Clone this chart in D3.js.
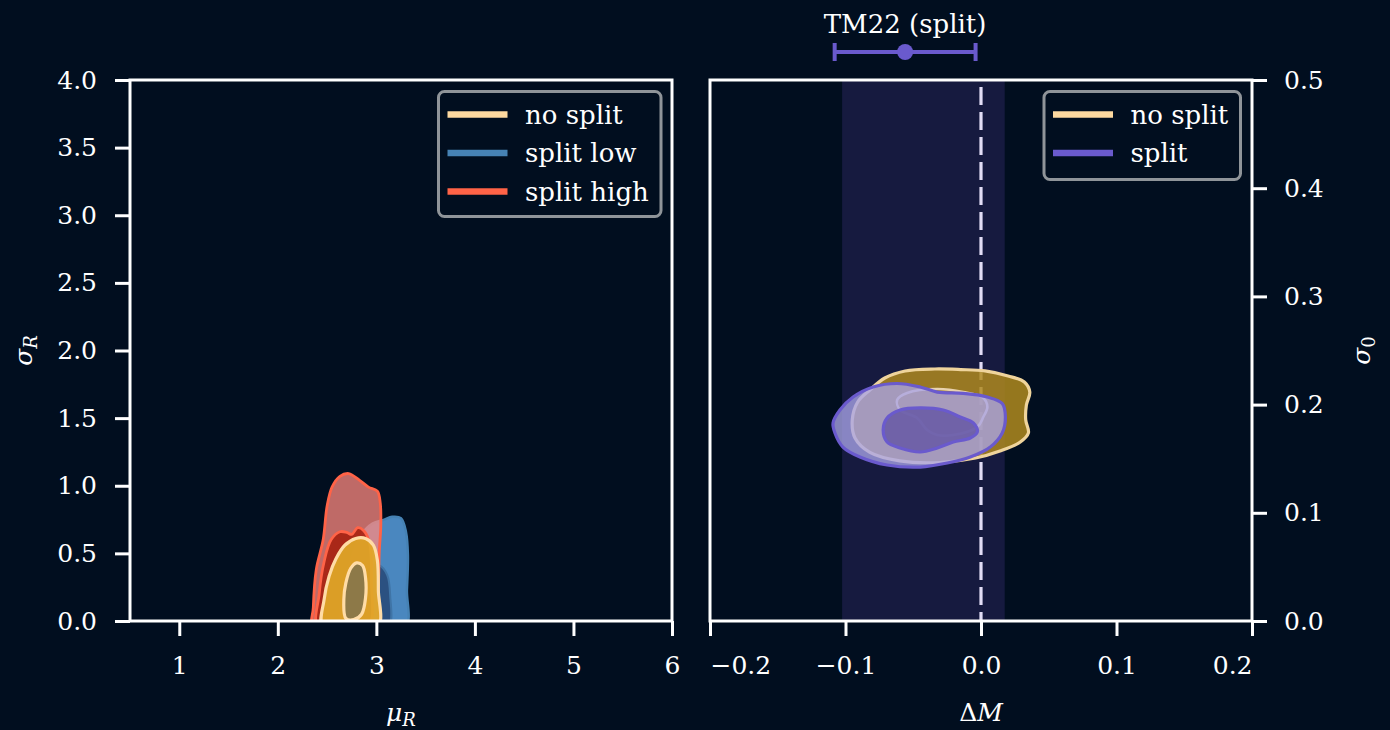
<!DOCTYPE html>
<html>
<head>
<meta charset="utf-8">
<script src="https://cdn.jsdelivr.net/npm/d3@7"></script>
<style>
  body { margin: 0; background: #010e1f; }
  text { font-family: "DejaVu Serif", serif; fill: #ffffff; }
</style>
</head>
<body>
<svg id="chart" width="1390" height="730"></svg>
<script>
// ---- axis ticks ----
const muTicks = [1, 2, 3, 4, 5, 6];
const sigmaRTicks = [0, 0.5, 1.0, 1.5, 2.0, 2.5, 3.0, 3.5, 4.0];
const dmTicks = [-0.2, -0.1, 0.0, 0.1, 0.2];
const sigma0Ticks = [0, 0.1, 0.2, 0.3, 0.4, 0.5];

// ---- left panel: (mu_R, sigma_R) credible contours, [outer 95%, inner 68%] ----
const splitLowOuter = [[2.66,-0.05],[2.67,0.2],[2.74,0.45],[2.85,0.64],[2.96,0.72],[3.08,0.75],[3.16,0.77],[3.25,0.76],[3.30,0.66],[3.32,0.49],[3.31,0.23],[3.29,-0.05]];
const splitLowInner = [[2.81,-0.05],[2.82,0.25],[2.91,0.39],[3.03,0.41],[3.11,0.34],[3.14,0.19],[3.12,-0.05]];
const splitHighOuter = [[2.36,-0.05],[2.36,0.1],[2.39,0.38],[2.46,0.6],[2.50,0.85],[2.55,0.99],[2.63,1.07],[2.72,1.09],[2.83,1.04],[2.92,0.99],[3.01,0.96],[3.04,0.87],[3.045,0.70],[3.03,0.52],[3.02,0.23],[3.0,-0.05]];
const splitHighInner = [[2.41,-0.05],[2.42,0.2],[2.47,0.44],[2.54,0.60],[2.63,0.66],[2.70,0.655],[2.75,0.64],[2.81,0.69],[2.87,0.67],[2.93,0.58],[2.95,0.30],[2.91,-0.05]];
const noSplitOuterL = [[2.46,-0.05],[2.47,0.16],[2.52,0.33],[2.59,0.46],[2.68,0.56],[2.79,0.61],[2.89,0.61],[2.97,0.56],[3.01,0.45],[3.02,0.23],[3.01,-0.05]];
const noSplitInnerL = [[2.69,0.02],[2.67,0.16],[2.69,0.28],[2.74,0.39],[2.80,0.43],[2.86,0.41],[2.89,0.32],[2.89,0.17],[2.85,0.05],[2.77,0.01]];

// ---- right panel: (Delta M, sigma_0) credible contours ----
const noSplitOuterR = [[-0.082,0.2135],[-0.071,0.2246],[-0.056,0.2311],[-0.034,0.2329],[-0.015,0.2324],[0.003,0.2311],[0.020,0.2264],[0.032,0.2209],[0.036,0.2116],[0.0335,0.1996],[0.033,0.1858],[0.035,0.1738],[0.029,0.1654],[0.014,0.1571],[-0.004,0.1506],[-0.030,0.1465],[-0.060,0.1480],[-0.082,0.1558],[-0.093,0.1691],[-0.095,0.1858],[-0.091,0.2024]];
const noSplitInnerR = [[-0.0619,0.2043],[-0.0545,0.2107],[-0.0324,0.2144],[-0.0131,0.2116],[0.0017,0.2061],[0.0047,0.1978],[0.0017,0.1885],[-0.0027,0.1793],[-0.0205,0.1719],[-0.0323,0.1719],[-0.0397,0.1765],[-0.0471,0.1876],[-0.0597,0.1950]];
const splitOuterR = [[-0.1092,0.1830],[-0.1041,0.1950],[-0.0944,0.2070],[-0.0796,0.2163],[-0.0620,0.2195],[-0.0449,0.2163],[-0.0323,0.2116],[-0.0131,0.2103],[0.0047,0.2070],[0.0157,0.2010],[0.018,0.1885],[0.0157,0.1738],[0.0069,0.1608],[-0.0079,0.1516],[-0.0249,0.1460],[-0.0449,0.1423],[-0.0693,0.1442],[-0.0893,0.1516],[-0.1019,0.1608],[-0.1078,0.1738]];
const splitInnerR = [[-0.0722,0.1765],[-0.0693,0.1876],[-0.0597,0.1950],[-0.0449,0.1969],[-0.0279,0.1950],[-0.0153,0.1885],[-0.0057,0.1830],[-0.0027,0.1747],[-0.0079,0.1691],[-0.0205,0.1654],[-0.0323,0.1599],[-0.0449,0.1562],[-0.0597,0.1599],[-0.0693,0.1654]];

// ---- reference measurements ----
const refBand = [-0.1025, 0.0175];          // shaded Delta M interval
const tm22 = { value: -0.056, err: 0.052 }; // TM22 (split) estimate

const legendLeft = ["no split", "split low", "split high"];
const legendRight = ["no split", "split"];

// ---- colours ----
const BG = "#010e1f";
const C = {
  noSplit: "#fdd9a0",
  low: "#4682b4",
  high: "#ff6347",
  split: "#6a5acd"
};

const W = 1390, H = 730;
const svg = d3.select("#chart");
svg.append("rect").attr("width", W).attr("height", H).attr("fill", BG);

const L = { x0: 130, x1: 672, y0: 80, y1: 621 };
const R = { x0: 710, x1: 1252, y0: 80, y1: 621 };

const xL = d3.scaleLinear().domain([0.5, 6]).range([L.x0, L.x1]);
const yL = d3.scaleLinear().domain([0, 4]).range([L.y1, L.y0]);
const xR = d3.scaleLinear().domain([-0.2, 0.2]).range([R.x0, R.x1]);
const yR = d3.scaleLinear().domain([0, 0.5]).range([R.y1, R.y0]);

const defs = svg.append("defs");
defs.append("clipPath").attr("id", "clipL").append("rect")
  .attr("x", L.x0).attr("y", L.y0).attr("width", L.x1 - L.x0).attr("height", L.y1 - L.y0);
defs.append("clipPath").attr("id", "clipR").append("rect")
  .attr("x", R.x0).attr("y", R.y0).attr("width", R.x1 - R.x0).attr("height", R.y1 - R.y0);

function contour(g, pts, x, y, fill, op, stroke, sw) {
  const line = d3.line().x(d => x(d[0])).y(d => y(d[1]))
    .curve(d3.curveCatmullRomClosed.alpha(0.5));
  g.append("path").attr("d", line(pts))
    .attr("fill", fill).attr("fill-opacity", op)
    .attr("stroke", stroke).attr("stroke-width", sw)
    .attr("stroke-linejoin", "round");
}

// ---------- left panel ----------
const gL = svg.append("g").attr("clip-path", "url(#clipL)");
contour(gL, splitLowOuter, xL, yL, "#4e8ec8", 0.95, C.low, 2.5);
contour(gL, splitLowInner, xL, yL, "#1e3a66", 0.7, "#3f74a6", 2);
contour(gL, splitHighOuter, xL, yL, "#ff8980", 0.75, C.high, 2.8);
contour(gL, splitHighInner, xL, yL, "#a41c0a", 0.85, C.high, 2.8);
contour(gL, noSplitOuterL, xL, yL, "#e0a828", 0.92, "#ffdca6", 3.2);
contour(gL, noSplitInnerL, xL, yL, "#84744c", 0.9, "#ffdca6", 3.2);

// ---------- right panel ----------
const gR = svg.append("g").attr("clip-path", "url(#clipR)");
gR.append("rect")
  .attr("x", xR(refBand[0])).attr("y", R.y0)
  .attr("width", xR(refBand[1]) - xR(refBand[0])).attr("height", R.y1 - R.y0)
  .attr("fill", "#161a3f");
gR.append("line")
  .attr("x1", xR(0)).attr("x2", xR(0)).attr("y1", R.y0).attr("y2", R.y1)
  .attr("stroke", "#e2ddf5").attr("stroke-width", 3.2)
  .attr("stroke-dasharray", "18,7").attr("stroke-dashoffset", -7);
contour(gR, noSplitOuterR, xR, yR, "#af8a1e", 0.85, "#efd49c", 3.2);
contour(gR, noSplitInnerR, xR, yR, "#af8a1e", 0.3, "#e8d2ae", 2.6);
contour(gR, splitOuterR, xR, yR, "#a9a4e8", 0.78, C.split, 3.2);
contour(gR, splitInnerR, xR, yR, "#6658a4", 0.85, C.split, 3.2);

// ---------- axes ----------
function styleAxis(g) {
  g.select(".domain").remove();
  g.selectAll(".tick line").attr("stroke", "#ffffff").attr("stroke-width", 3);
  g.selectAll(".tick text").attr("fill", "#ffffff").attr("font-size", 25)
    .attr("font-family", "DejaVu Serif, serif");
}

svg.append("g").attr("transform", `translate(0,${L.y1})`)
  .call(d3.axisBottom(xL).tickValues(muTicks).tickFormat(d3.format("d")).tickSize(15).tickPadding(20))
  .call(styleAxis);
svg.append("g").attr("transform", `translate(${L.x0},0)`)
  .call(d3.axisLeft(yL).tickValues(sigmaRTicks).tickFormat(d3.format(".1f")).tickSize(15).tickPadding(18))
  .call(styleAxis);

const axR = svg.append("g").attr("transform", `translate(0,${R.y1})`)
  .call(d3.axisBottom(xR).tickValues(dmTicks).tickFormat(d3.format(".1f")).tickSize(15).tickPadding(20))
  .call(styleAxis);
axR.selectAll(".tick text").attr("text-anchor", (d, i) => i === 0 ? "start" : (i === dmTicks.length - 1 ? "end" : "middle"));

svg.append("g").attr("transform", `translate(${R.x1},0)`)
  .call(d3.axisRight(yR).tickValues(sigma0Ticks).tickFormat(d3.format(".1f")).tickSize(15).tickPadding(17))
  .call(styleAxis);

// spines
[L, R].forEach(p => {
  svg.append("rect").attr("x", p.x0).attr("y", p.y0)
    .attr("width", p.x1 - p.x0).attr("height", p.y1 - p.y0)
    .attr("fill", "none").attr("stroke", "#ffffff").attr("stroke-width", 3);
});

// axis labels
function mathLabel(x, y, base, sub, subItalic, rotate) {
  const t = svg.append("text").attr("text-anchor", "middle").attr("font-size", 25)
    .attr("transform", `translate(${x},${y})` + (rotate ? " rotate(-90)" : ""));
  base.forEach(b => t.append("tspan").attr("font-style", b.italic ? "italic" : "normal").text(b.s));
  if (sub) t.append("tspan").attr("font-style", subItalic ? "italic" : "normal")
    .attr("font-size", 18).attr("dy", 5).text(sub);
  return t;
}
mathLabel((L.x0 + L.x1) / 2, 721, [{ s: "μ", italic: true }], "R", true, false);
mathLabel((R.x0 + R.x1) / 2, 721, [{ s: "Δ", italic: false }, { s: "M", italic: true }], null, false, false);
mathLabel(32, (L.y0 + L.y1) / 2, [{ s: "σ", italic: true }], "R", true, true);
mathLabel(1370, (R.y0 + R.y1) / 2, [{ s: "σ", italic: true }], "0", false, true);

// ---------- legends ----------
function legend(x, y, w, h, labels, colors) {
  const g = svg.append("g");
  g.append("rect").attr("x", x).attr("y", y).attr("width", w).attr("height", h)
    .attr("rx", 6).attr("fill", BG).attr("stroke", "#8f9499").attr("stroke-width", 3);
  labels.forEach((lab, i) => {
    const cy = y + 23 + i * 38.5;
    g.append("line").attr("x1", x + 9).attr("x2", x + 69).attr("y1", cy).attr("y2", cy)
      .attr("stroke", colors[i]).attr("stroke-width", 6.5);
    g.append("text").attr("x", x + 86.5).attr("y", cy + 9).attr("font-size", 26).text(lab);
  });
}
legend(438.5, 91.5, 222.5, 125, legendLeft, [C.noSplit, C.low, C.high]);
legend(1044, 91.5, 196.5, 88, legendRight, [C.noSplit, C.split]);

// ---------- TM22 (split) estimate above right panel ----------
const ebY = 52;
const lo = tm22.value - tm22.err, hi = tm22.value + tm22.err;
svg.append("text").attr("x", xR(tm22.value)).attr("y", 33).attr("text-anchor", "middle")
  .attr("font-size", 26).text("TM22 (split)");
svg.append("line").attr("x1", xR(lo)).attr("x2", xR(hi)).attr("y1", ebY).attr("y2", ebY)
  .attr("stroke", C.split).attr("stroke-width", 4);
[lo, hi].forEach(v => svg.append("line").attr("x1", xR(v)).attr("x2", xR(v))
  .attr("y1", ebY - 9).attr("y2", ebY + 9).attr("stroke", C.split).attr("stroke-width", 4));
svg.append("circle").attr("cx", xR(tm22.value)).attr("cy", ebY).attr("r", 8).attr("fill", C.split);
</script>
</body>
</html>
